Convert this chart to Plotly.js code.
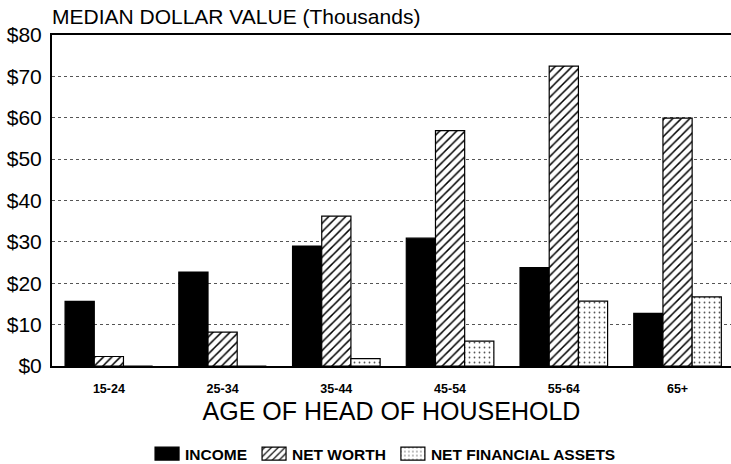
<!DOCTYPE html>
<html>
<head>
<meta charset="utf-8">
<script src="https://cdn.plot.ly/plotly-3.0.1.min.js"></script>
<style>
  html, body { margin: 0; padding: 0; background: #fff; }
  #chart { width: 731px; height: 464px; }
</style>
</head>
<body>
<div id="chart"></div>
<script>
// Data (thousands of dollars)
const ageGroups = ["15-24", "25-34", "35-44", "45-54", "55-64", "65+"];
const income = [15.6, 22.7, 29.0, 30.9, 23.8, 12.7];
const netWorth = [2.3, 8.2, 36.2, 56.9, 72.5, 59.9];
const netFinancialAssets = [0, 0, 1.8, 6.0, 15.7, 16.7];
const yTickValues = [0, 10, 20, 30, 40, 50, 60, 70, 80];
const yTickLabels = ["$0", "$10", "$20", "$30", "$40", "$50", "$60", "$70", "$80"];

const FONT = "Liberation Sans, Arial, Helvetica, sans-serif";
const outline = { color: "#000", width: 1.2 };

const traces = [
  {
    type: "bar", name: "INCOME", x: ageGroups, y: income,
    marker: { color: "#000", line: outline }
  },
  {
    type: "bar", name: "NET WORTH", x: ageGroups, y: netWorth,
    marker: {
      color: "#fff", line: outline,
      pattern: { shape: "/", fgcolor: "#000", bgcolor: "#fff", size: 6, solidity: 0.25, fillmode: "replace" }
    }
  },
  {
    type: "bar", name: "NET FINANCIAL ASSETS", x: ageGroups, y: netFinancialAssets,
    marker: {
      color: "#fff", line: outline,
      pattern: { shape: ".", fgcolor: "#555", bgcolor: "#fff", size: 5, solidity: 0.1, fillmode: "replace" }
    }
  }
];

const layout = {
  width: 731, height: 464,
  margin: { l: 52, r: 0, t: 35, b: 98 },
  paper_bgcolor: "#fff", plot_bgcolor: "#fff",
  font: { family: FONT, color: "#000" },
  barmode: "group", bargap: 0.23, bargroupgap: 0,
  showlegend: true,
  title: {
    text: "MEDIAN DOLLAR VALUE (Thousands)",
    font: { family: FONT, size: 21, color: "#000" },
    x: 0, xref: "paper", xanchor: "left",
    y: 1 - 17 / 464, yref: "container", yanchor: "middle"
  },
  xaxis: {
    type: "category", range: [-0.5, 5.47],
    showline: true, linecolor: "#000", linewidth: 2, mirror: true,
    showgrid: false, zeroline: false, ticks: "",
    ticklabelstandoff: 10,
    tickfont: { family: FONT, size: 12.5, weight: "bold", color: "#000" },
    title: {
      text: "AGE OF HEAD OF HOUSEHOLD",
      font: { family: FONT, size: 25, color: "#000" },
      standoff: 7
    }
  },
  yaxis: {
    range: [0, 80], tickmode: "array", tickvals: yTickValues, ticktext: yTickLabels,
    showline: true, linecolor: "#000", linewidth: 2,
    showgrid: true, gridcolor: "#555", gridwidth: 1, griddash: "dot",
    zeroline: false, ticks: "", ticklabelstandoff: 4,
    tickfont: { family: FONT, size: 21, color: "#000" }
  },
  legend: {
    orientation: "h", xref: "container", yref: "container",
    x: 0.524, xanchor: "center", y: 1 - 454 / 464, yanchor: "middle",
    font: { family: FONT, size: 15.5, weight: "bold", color: "#000" },
    itemclick: false, itemdoubleclick: false
  }
};

Plotly.newPlot("chart", traces, layout, { displayModeBar: false, staticPlot: true }).then(function (gd) {
  // widen the legend swatches to match the reference's rectangular keys
  gd.querySelectorAll(".legend .legendpoints path").forEach(function (p) {
    p.setAttribute("d", "M14,6.5H-10V-6.5H14Z");
  });
});
</script>
</body>
</html>
